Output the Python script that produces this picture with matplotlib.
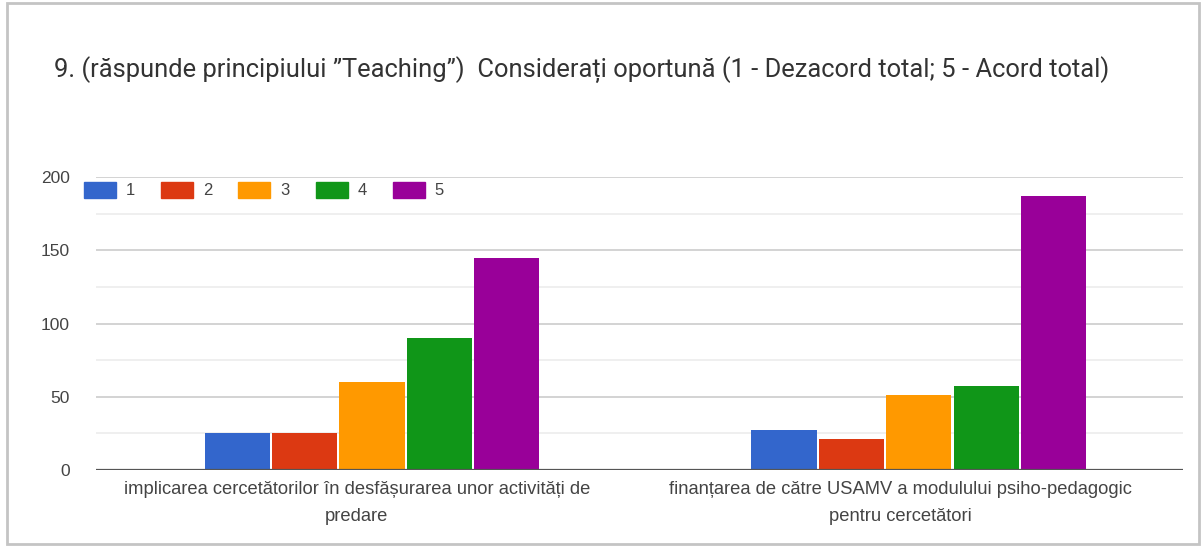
import matplotlib
matplotlib.use("Agg")
import matplotlib.pyplot as plt
import numpy as np
from matplotlib.patches import Rectangle, Patch
from matplotlib.ticker import MultipleLocator

# date
categorii = ["implicarea cercetătorilor în desfășurarea unor activități de\npredare",
             "finanțarea de către USAMV a modulului psiho-pedagogic\npentru cercetători"]
serii = ["1", "2", "3", "4", "5"]
val_1 = [25, 27]
val_2 = [25, 21]
val_3 = [60, 51]
val_4 = [90, 57]
val_5 = [145, 187]
culori = ["#3366CC", "#DC3912", "#FF9900", "#109618", "#990099"]
titlu = "9. (răspunde principiului ”Teaching”)  Considerați oportună (1 - Dezacord total; 5 - Acord total)"

W, H = 1201, 546
fig = plt.figure(figsize=(W / 100, H / 100), dpi=100)

# chenarul imaginii
fig.patches.append(Rectangle((7 / W, 2 / H), 1192 / W, 541 / H, transform=fig.transFigure,
                             fill=False, edgecolor="#c4c4c4", linewidth=2))

ax = fig.add_axes([96 / W, (H - 470) / H, (1183 - 96) / W, (470 - 177) / H])

valori = [val_1, val_2, val_3, val_4, val_5]
x = np.arange(len(categorii))
lat = 0.124
for i, (v, c) in enumerate(zip(valori, culori)):
    ax.bar(x + (i - 2) * lat + 0.008 + 0.006 * x, v, width=lat - 0.004, color=c, zorder=3,
           label=serii[i])

ax.set_xlim(-0.5, 1.5)
ax.set_ylim(0, 200)
ax.yaxis.set_major_locator(MultipleLocator(50))
ax.yaxis.set_minor_locator(MultipleLocator(25))
ax.grid(axis="y", which="major", color="#d0d0d0", linewidth=1.3, zorder=0)
ax.grid(axis="y", which="minor", color="#ececec", linewidth=1.2, zorder=0)
ax.axhline(0, color="#555555", linewidth=1.6, zorder=4)
for s in ax.spines.values():
    s.set_visible(False)

ax.set_xticks(x - 0.02)
ax.set_xticklabels(categorii, fontsize=13.2, color="#444444", family="Liberation Sans",
                   linespacing=1.75)
ax.tick_params(axis="x", length=0, pad=8)
ax.tick_params(axis="y", which="both", length=0, pad=19, labelsize=12.5, labelcolor="#444444")
for t in ax.get_yticklabels():
    t.set_family("Liberation Sans")

handles = [Patch(facecolor=c, edgecolor=c) for c in culori]
leg = fig.legend(handles, serii, loc="upper left", bbox_to_anchor=(77 / W, 1 - 175 / H),
                 ncol=5, frameon=False, handlelength=1.92, handleheight=1.1,
                 handletextpad=0.6, columnspacing=1.56, borderaxespad=0,
                 prop={"family": "Liberation Sans", "size": 12})
for t in leg.get_texts():
    t.set_color("#444444")

fig.text(54 / W, 1 - 70 / H, titlu, fontsize=18.4, color="#333333", family="Roboto",
         va="center", ha="left")

fig.savefig("out.png", dpi=100)
